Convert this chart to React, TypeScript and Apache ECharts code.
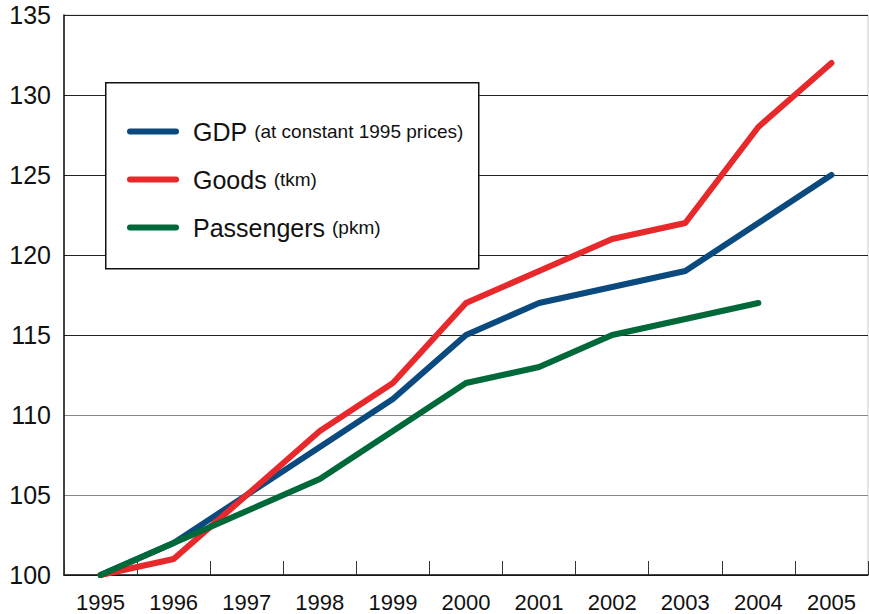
import React, { useEffect, useRef } from "react";
import * as echarts from "echarts";

const years = ["1995", "1996", "1997", "1998", "1999", "2000", "2001", "2002", "2003", "2004", "2005"];
const gdp = [100, 102, 105, 108, 111, 115, 117, 118, 119, 122, 125];
const goods = [100, 101, 105, 109, 112, 117, 119, 121, 122, 128, 132];
const passengers = [100, 102, 104, 106, 109, 112, 113, 115, 116, 117, null];

const seriesNames = ["GDP", "Goods", "Passengers"];
const seriesNotes = ["(at constant 1995 prices)", "(tkm)", "(pkm)"];
const seriesColors = ["#0b4a7e", "#e8292b", "#00693a"];

const FONT = "'Liberation Sans', Arial, Helvetica, sans-serif";

export default function App() {
  const ref = useRef<HTMLDivElement>(null);
  useEffect(() => {
    document.body.style.margin = "0";
    const chart = echarts.init(ref.current!, null, { renderer: "svg" });
    const data = [gdp, goods, passengers];
    chart.setOption({
      animation: false,
      backgroundColor: "#ffffff",
      textStyle: { fontFamily: FONT },
      grid: {
        left: 64,
        right: 1,
        top: 15,
        bottom: 39,
        show: true,
        borderColor: "#c8c8c8",
        borderWidth: 1,
        backgroundColor: "transparent",
      },
      xAxis: {
        type: "category",
        data: years,
        boundaryGap: true,
        axisLine: { show: true, lineStyle: { color: "#111", width: 1.5 } },
        axisTick: { show: true, inside: true, length: 14, lineStyle: { color: "#333", width: 1 } },
        axisLabel: { color: "#111", fontSize: 22, margin: 16, fontFamily: FONT },
        splitLine: { show: false },
      },
      yAxis: {
        type: "value",
        min: 100,
        max: 135,
        interval: 5,
        axisLine: { show: true, lineStyle: { color: "#111", width: 1.5 } },
        axisTick: { show: false },
        axisLabel: { color: "#111", fontSize: 25, margin: 13, padding: [12, 0, 0, 0], fontFamily: FONT },
        splitLine: {
          show: true,
          lineStyle: {
            color: ["#222", "#888", "#888", "#222", "#222", "#222", "#222", "#222"],
            width: 1.2,
          },
        },
      },
      legend: {
        show: true,
        orient: "vertical",
        left: 127,
        top: 119,
        padding: 0,
        z: 20,
        itemWidth: 52,
        itemHeight: 6,
        itemGap: 23,
        icon: "path://M3,0 L49,0 A3,3 0 0 1 49,6 L3,6 A3,3 0 0 1 3,0 Z",
        data: seriesNames,
        formatter: (name: string) => {
          const i = seriesNames.indexOf(name);
          return `{a|${name}}{b|${seriesNotes[i]}}`;
        },
        textStyle: {
          padding: [0, 0, 0, 9],
          rich: {
            a: { fontSize: 25, color: "#111", fontFamily: FONT, lineHeight: 30 },
            b: { fontSize: 19, color: "#111", fontFamily: FONT, lineHeight: 30, padding: [0, 0, 0, 7] },
          },
        },
      },
      graphic: [
        {
          type: "rect",
          left: 105,
          top: 82,
          shape: { width: 373, height: 186 },
          style: { fill: "#ffffff", stroke: "#111", lineWidth: 1.5 },
          z: 3,
        },
      ],
      series: seriesNames.map((name, i) => ({
        name,
        type: "line",
        data: data[i],
        showSymbol: false,
        symbol: "none",
        color: seriesColors[i],
        lineStyle: { width: 6, color: seriesColors[i], cap: "round", join: "round" },
        z: 5,
      })),
    });
    return () => chart.dispose();
  }, []);
  return <div ref={ref} style={{ position: "absolute", left: 0, top: 0, width: 869, height: 614 }} />;
}
